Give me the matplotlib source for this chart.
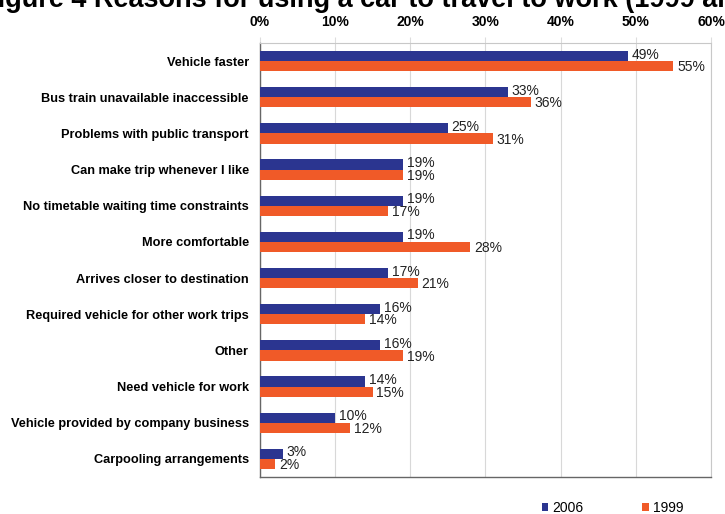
import matplotlib.pyplot as plt
import numpy as np

plt.rcParams["font.family"] = ["Liberation Sans", "DejaVu Sans"]

reasons = [
    "Vehicle faster",
    "Bus train unavailable inaccessible",
    "Problems with public transport",
    "Can make trip whenever I like",
    "No timetable waiting time constraints",
    "More comfortable",
    "Arrives closer to destination",
    "Required vehicle for other work trips",
    "Other",
    "Need vehicle for work",
    "Vehicle provided by company business",
    "Carpooling arrangements",
]
share_2006 = [49, 33, 25, 19, 19, 19, 17, 16, 16, 14, 10, 3]
share_1999 = [55, 36, 31, 19, 17, 28, 21, 14, 19, 15, 12, 2]
x_ticks = [0, 10, 20, 30, 40, 50, 60]

NAVY = "#2b3590"
ORANGE = "#f05a28"

fig = plt.figure(figsize=(7.25, 5.14), dpi=100)
ax = fig.add_axes([0.3586, 0.072, 0.6221, 0.8443])

y = np.arange(len(reasons))
h = 0.28
b06 = ax.barh(y - h / 2, share_2006, height=h, color=NAVY, label="2006", zorder=3)
b99 = ax.barh(y + h / 2, share_1999, height=h, color=ORANGE, label="1999", zorder=3)

for yi, v in zip(y, share_2006):
    ax.text(v + 0.5, yi - h / 2 - 0.04, f"{v}%", va="center", ha="left",
            fontsize=10, color="#222222")
for yi, v in zip(y, share_1999):
    ax.text(v + 0.5, yi + h / 2 + 0.03, f"{v}%", va="center", ha="left",
            fontsize=10, color="#222222")

ax.set_ylim(len(reasons) - 0.5, -0.5)
ax.set_xlim(0, 60)
ax.set_yticks(y)
ax.set_yticklabels(reasons, fontweight="bold", fontsize=9.2)
ax.tick_params(axis="y", length=0, pad=8)

ax.xaxis.tick_top()
ax.set_xticks(x_ticks)
ax.set_xticklabels([f"{t}%" for t in x_ticks], fontweight="bold", fontsize=10)
ax.tick_params(axis="x", length=4, color="#dddddd", pad=6)

ax.grid(axis="x", color="#d8d8d8", linewidth=0.8, zorder=0)
for side in ("top", "right"):
    ax.spines[side].set_color("#c8c8c8")
    ax.spines[side].set_linewidth(0.8)
for side in ("left", "bottom"):
    ax.spines[side].set_color("#666666")
    ax.spines[side].set_linewidth(1.0)

fig.text(-0.026, 1.0, "Figure 4 Reasons for using a car to travel to work (1999 and 2006)",
         fontsize=19.5, fontweight="bold", ha="left", va="center")

fig.legend(handles=[b06, b99], loc="center", bbox_to_anchor=(0.845, 0.012), ncol=2,
           frameon=False, fontsize=10, handlelength=0.5, handleheight=0.5,
           handletextpad=0.3, columnspacing=4.2)

fig.savefig("out.png", dpi=100)
